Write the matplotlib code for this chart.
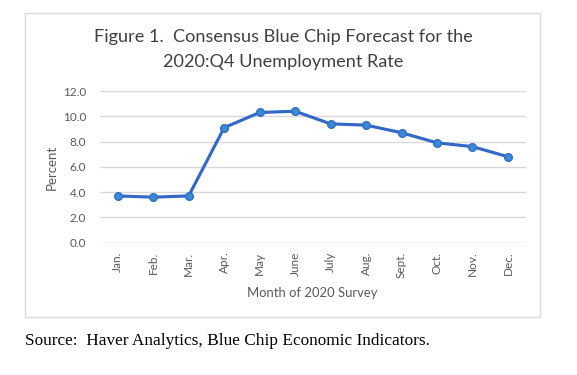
import matplotlib
matplotlib.use('Agg')
import matplotlib.pyplot as plt
from matplotlib.patches import Rectangle

months = ['Jan.', 'Feb.', 'Mar.', 'Apr.', 'May', 'June', 'July', 'Aug.', 'Sept.', 'Oct.', 'Nov.', 'Dec.']
rate = [3.7, 3.6, 3.7, 9.1, 10.3, 10.4, 9.4, 9.3, 8.7, 7.9, 7.6, 6.8]
yticks = [0, 2, 4, 6, 8, 10, 12]

W, H = 577, 375
fig = plt.figure(figsize=(W / 100, H / 100), dpi=100)

# chart frame
fig.patches.append(Rectangle((25 / W, 1 - 317 / H), 515 / W, 304 / H, transform=fig.transFigure,
                             fill=False, edgecolor='#d9d9d9', linewidth=1.0))

ax = fig.add_axes([100 / W, 1 - 242.7 / H, 425.7 / W, 151.7 / H])
x = list(range(len(months)))
ax.plot(x, rate, color='#3468c8', linewidth=2.25, marker='o', markersize=5.5,
        markerfacecolor='#3a8ad6', markeredgecolor='#2f6fc4', markeredgewidth=1, zorder=3)

ax.set_xlim(-0.5, len(months) - 0.5)
ax.set_ylim(0, 12)
ax.set_yticks(yticks)
ax.set_yticklabels([f'{v:.1f}' for v in yticks])
ax.set_xticks(x)
ax.set_xticklabels(months, rotation=90)
ax.grid(axis='y', color='#d9d9d9', linewidth=1)
ax.set_axisbelow(True)
for s in ax.spines.values():
    s.set_visible(False)
ax.tick_params(length=0, colors='#595959', labelsize=8.5)
ax.tick_params(axis='x', pad=6.5)
ax.tick_params(axis='y', pad=10)
for lab in ax.get_xticklabels() + ax.get_yticklabels():
    lab.set_family('Lato')

fig.text(52 / W, 1 - 167 / H, 'Percent', rotation=90, ha='center', va='center',
         fontsize=9.5, color='#595959', family='Lato')
fig.text(312.5 / W, 1 - 293 / H, 'Month of 2020 Survey', ha='center', va='center',
         fontsize=9.4, color='#595959', family='Lato')
fig.text(283 / W, 1 - 37 / H, 'Figure 1.  Consensus Blue Chip Forecast for the', ha='center', va='center',
         fontsize=13.05, color='#404040', family='Lato')
fig.text(283 / W, 1 - 62 / H, '2020:Q4 Unemployment Rate', ha='center', va='center',
         fontsize=13.05, color='#404040', family='Lato')
fig.text(25 / W, 1 - 341 / H, 'Source:  Haver Analytics, Blue Chip Economic Indicators.', ha='left', va='center',
         fontsize=12.4, color='black', family='Liberation Serif')

fig.savefig('out.png', dpi=100)
